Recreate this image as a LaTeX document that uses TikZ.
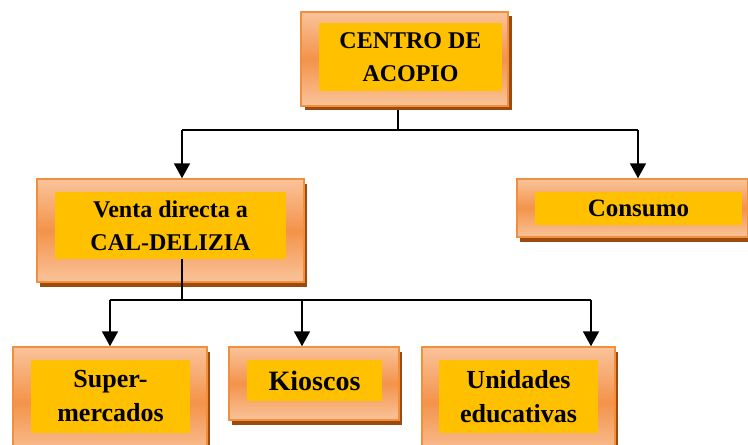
\documentclass[tikz,border=0pt]{standalone}
\usepackage{fontspec}
\setmainfont{Liberation Serif}
\usetikzlibrary{arrows.meta}
\definecolor{boxlight}{HTML}{F9C39A}
\definecolor{boxmid}{HTML}{F4934A}
\definecolor{boxedge}{HTML}{F0903E}
\definecolor{boxshadow}{HTML}{9E4A0C}
\definecolor{innerfill}{HTML}{FFC000}
\tikzset{
  outerbox/.style={rectangle, draw=boxedge, line width=1.5pt, top color=boxlight, bottom color=boxlight, middle color=boxmid, inner sep=0pt},
  shadowbox/.style={rectangle, fill=boxshadow, inner sep=0pt, draw=none},
  innerbox/.style={rectangle, fill=innerfill, inner sep=0pt, align=center, font=\bfseries\fontsize{24}{33}\selectfont, text=black},
  conn/.style={draw=black, line width=2pt},
  arr/.style={conn, -{Triangle[length=15pt,width=16pt]}}
}
\begin{document}
\begin{tikzpicture}[x=1pt,y=-1pt]
\useasboundingbox (0,0) rectangle (748,445);
\clip (0,0) rectangle (748,445);
% shadows
\node[shadowbox, minimum width=207pt, minimum height=94pt] (topsh) at (408.5,63) {};
\node[shadowbox, minimum width=267pt, minimum height=103pt] (ventash) at (173.5,235) {};
\node[shadowbox, minimum width=231pt, minimum height=58pt] (conssh) at (635.5,213) {};
\node[shadowbox, minimum width=194pt, minimum height=111pt] (supsh) at (113,407) {};
\node[shadowbox, minimum width=170pt, minimum height=73pt] (kiosh) at (317,388.5) {};
\node[shadowbox, minimum width=193pt, minimum height=111pt] (unish) at (521.5,407) {};
% outer boxes
\node[outerbox, minimum width=207pt, minimum height=94pt] (top) at (404.5,59) {};
\node[outerbox, minimum width=267pt, minimum height=103pt] (venta) at (170.5,230.5) {};
\node[outerbox, minimum width=231pt, minimum height=58pt] (cons) at (632.5,208) {};
\node[outerbox, minimum width=194pt, minimum height=111pt] (sup) at (110,402.5) {};
\node[outerbox, minimum width=170pt, minimum height=73pt] (kio) at (314,383.5) {};
\node[outerbox, minimum width=193pt, minimum height=111pt] (uni) at (518.5,402.5) {};
% inner boxes with text
\node[innerbox, minimum width=183pt, minimum height=68pt] (topin) at (410.5,57) {CENTRO DE\\ACOPIO};
\node[innerbox, minimum width=231pt, minimum height=67pt] (ventain) at (170.5,225.5) {Venta directa a\\CAL-DELIZIA};
\node[innerbox, minimum width=207pt, minimum height=33pt, font=\bfseries\fontsize{25}{33}\selectfont] (consin) at (638.5,208.5) {Consumo};
\node[innerbox, minimum width=159pt, minimum height=73pt, font=\bfseries\fontsize{26}{34}\selectfont] (supin) at (110.5,396.5) {Super-\\mercados};
\node[innerbox, minimum width=135pt, minimum height=41pt, font=\bfseries\fontsize{28}{34}\selectfont] (kioin) at (314.5,380.5) {Kioscos};
\node[innerbox, minimum width=159pt, minimum height=73pt, font=\bfseries\fontsize{26}{34}\selectfont] (uniin) at (518.5,396.5) {Unidades\\educativas};
% junction coordinates
\coordinate (j1) at (398,130);
\coordinate (j1l) at (182,130);
\coordinate (j1r) at (638,130);
\coordinate (j2) at (182,300);
\coordinate (j2l) at (110,300);
\coordinate (j2m) at (302,300);
\coordinate (j2r) at (591,300);
% connectors
\draw[conn] (j1 |- topsh.south) -- (j1);
\draw[conn] (j1l) -- (j1r);
\draw[arr] (j1l) -- (j1l |- venta.north);
\draw[arr] (j1r) -- (j1r |- cons.north);
\draw[conn] (j2 |- ventain.south) -- (j2);
\draw[conn] (j2l) -- (j2r);
\draw[arr] (j2l) -- (j2l |- sup.north);
\draw[arr] (j2m) -- (j2m |- kio.north);
\draw[arr] (j2r) -- (j2r |- uni.north);
\end{tikzpicture}
\end{document}
